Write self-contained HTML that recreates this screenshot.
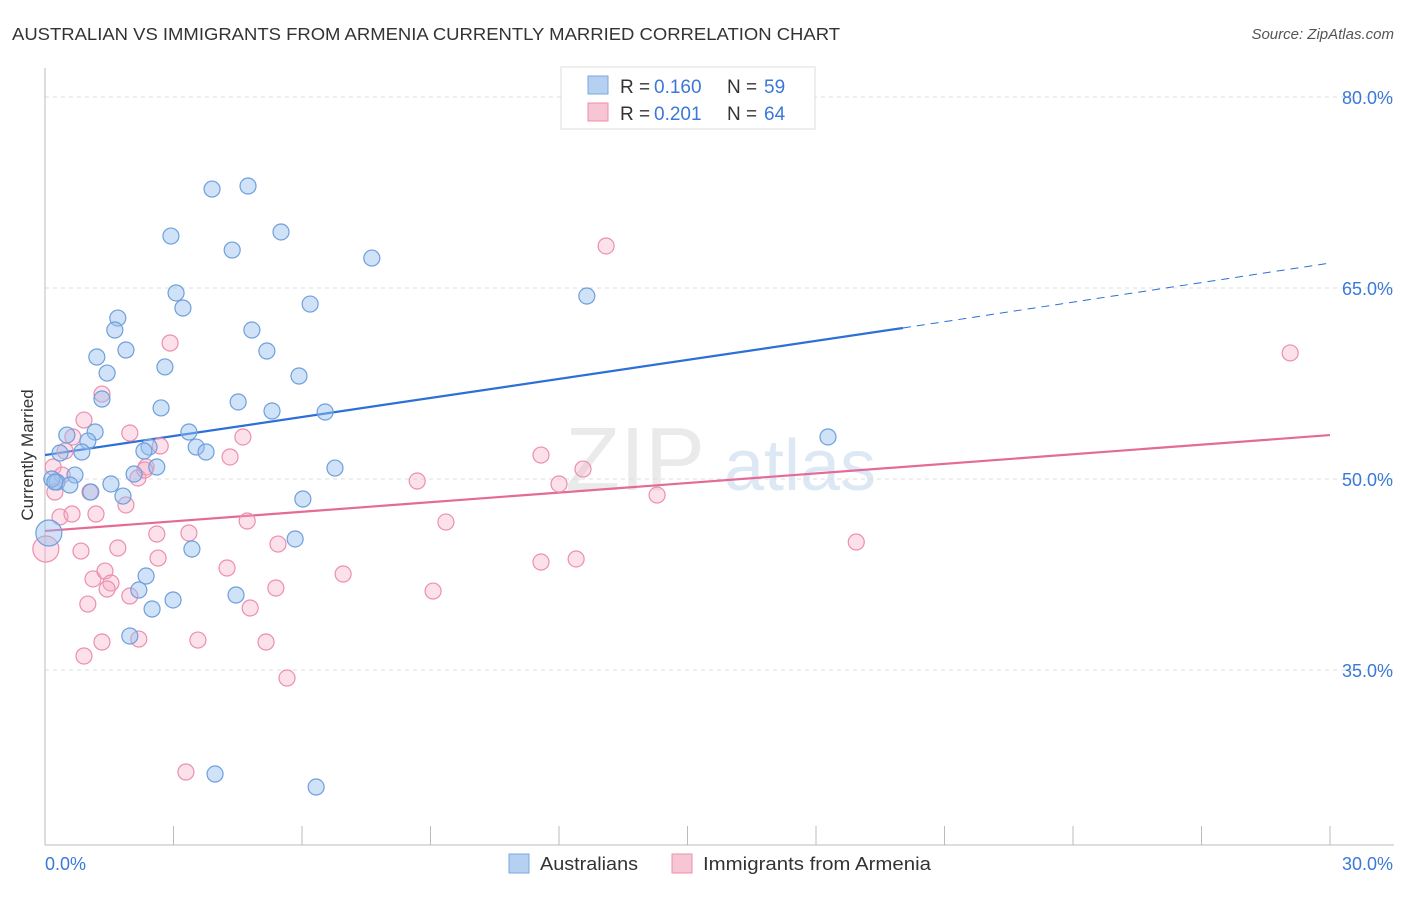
<!DOCTYPE html>
<html><head><meta charset="utf-8"><style>
body{margin:0;background:#fff;font-family:"Liberation Sans",sans-serif}
svg text{font-family:"Liberation Sans",sans-serif}
</style></head><body>
<svg id="chart" width="1406" height="892">
<text x="12" y="40" font-size="17.5" fill="#333" textLength="828" lengthAdjust="spacingAndGlyphs">AUSTRALIAN VS IMMIGRANTS FROM ARMENIA CURRENTLY MARRIED CORRELATION CHART</text>
<text x="1394" y="39" font-size="15" fill="#555" font-style="italic" text-anchor="end">Source: ZipAtlas.com</text>
<g>
<text x="635" y="490" font-size="90" fill="#ddd" font-family="Liberation Serif" text-anchor="middle" opacity="0.6">ZIP</text>
<text x="800" y="490" font-size="72" fill="#c7d9f0" text-anchor="middle" opacity="0.6">atlas</text>
</g>
<g id="grid"></g><g id="axes"></g><g id="trends"></g><g id="points"></g>
<text transform="translate(33,455) rotate(-90)" font-size="17" fill="#333" text-anchor="middle">Currently Married</text>
<g>
<rect x="561" y="67" width="254" height="62" fill="#fff" stroke="#ddd"/>
<rect x="588" y="76" width="20" height="18" fill="#b6d0f2" stroke="#7aa8e0"/>
<rect x="588" y="103" width="20" height="18" fill="#f7c6d5" stroke="#eb8fae"/>
<text x="620" y="93" font-size="19" fill="#333">R = </text><text x="654" y="93" font-size="19" fill="#3b78d8">0.160</text>
<text x="727" y="93" font-size="19" fill="#333">N = </text><text x="764" y="93" font-size="19" fill="#3b78d8">59</text>
<text x="620" y="120" font-size="19" fill="#333">R = </text><text x="654" y="120" font-size="19" fill="#3b78d8">0.201</text>
<text x="727" y="120" font-size="19" fill="#333">N = </text><text x="764" y="120" font-size="19" fill="#3b78d8">64</text>
</g>
<g>
<rect x="509" y="854" width="20" height="19" fill="#b6d0f2" stroke="#7aa8e0"/>
<text x="540" y="870" font-size="18" fill="#333" textLength="98" lengthAdjust="spacingAndGlyphs">Australians</text>
<rect x="672" y="854" width="20" height="19" fill="#f7c6d5" stroke="#eb8fae"/>
<text x="703" y="870" font-size="18" fill="#333" textLength="228" lengthAdjust="spacingAndGlyphs">Immigrants from Armenia</text>
</g>
</svg>
<script>
const yTicks=[80,65,50,35];
const yTickLabels=["80.0%","65.0%","50.0%","35.0%"];
const xTickVals=[0,3,6,9,12,15,18,21,24,27,30];
const blueX=[3.90,4.74,2.94,5.51,4.37,7.63,3.06,3.22,6.19,12.65,1.70,1.63,4.83,1.89,1.21,5.18,2.80,1.45,5.93,1.33,4.51,2.71,5.30,6.54,1.17,0.51,1.00,3.36,2.43,3.53,2.31,3.76,0.86,0.35,18.28,2.61,2.08,0.70,6.77,0.28,0.58,1.54,1.07,1.82,6.02,0.09,5.84,3.43,2.36,2.19,4.46,2.99,2.50,1.98,3.97,6.33,0.16,0.23];
const blueY=[72.77,73.01,69.08,69.40,67.98,67.35,64.61,63.43,63.74,64.37,62.64,61.70,61.70,60.13,59.58,60.05,58.80,58.32,58.09,56.28,56.05,55.58,55.34,55.26,53.69,53.45,52.98,53.69,52.51,52.51,52.20,52.12,52.12,52.04,53.30,50.94,50.39,50.31,50.86,49.76,49.53,49.61,48.98,48.66,48.43,45.76,45.29,44.50,42.38,41.28,40.89,40.50,39.79,37.67,26.83,25.81,50.0,49.76];
const pinkX=[13.10,29.07,2.92,1.33,0.91,1.98,4.62,2.69,0.65,0.47,4.32,11.58,2.36,12.56,2.17,8.69,12.00,14.29,1.05,0.23,1.89,0.35,0.63,1.19,4.72,9.36,2.61,3.36,5.44,18.94,1.70,0.84,0.02,2.64,11.58,12.40,4.25,6.96,1.12,1.40,1.54,5.39,1.45,9.06,1.98,1.00,4.79,1.33,2.19,3.57,5.16,0.91,5.65,3.29,0.19,0.40,2.33];
const pinkY=[68.30,59.90,60.68,56.67,54.63,53.61,53.30,52.59,53.30,52.20,51.73,51.88,50.94,50.78,50.08,49.84,49.61,48.74,48.98,48.98,47.96,47.02,47.25,47.25,46.70,46.62,45.68,45.76,44.89,45.05,44.58,44.34,44.50,43.79,43.48,43.72,43.01,42.54,42.15,42.77,41.83,41.44,41.36,41.20,40.81,40.18,39.87,37.20,37.43,37.35,37.20,36.10,34.37,26.99,50.94,50.31,50.71];
const blueTrend=[51.88,61.86,66.96];
const blueTrendX=[0,20.03,30];
const pinkTrend=[45.92,53.45];
const pinkTrendX=[0,30];
const NS="http://www.w3.org/2000/svg";
const xs=v=>45+v/30*1285;
const ys=v=>97+(80-v)*191/15;
function mk(t,a,p){const e=document.createElementNS(NS,t);for(const k in a)e.setAttribute(k,a[k]);p.appendChild(e);return e;}
const grid=document.getElementById('grid'),axes=document.getElementById('axes');
yTicks.forEach((v,i)=>{
 const l=mk('line',{x1:45,x2:1394,y1:ys(v),y2:ys(v),stroke:'#ddd','stroke-dasharray':'4,4'},grid);
 
 
 const t=mk('text',{x:1393,y:ys(v)+7,'font-size':18,fill:'#3b78d8','text-anchor':'end'},axes);
 t.textContent=yTickLabels[i];
 
 
});
const ax=mk('line',{x1:45,x2:45,y1:68,y2:845,stroke:'#bbb'},axes);


const bx=mk('line',{x1:45,x2:1394,y1:845,y2:845,stroke:'#bbb'},axes);


xTickVals.forEach(v=>{
 const t=mk('line',{x1:xs(v),x2:xs(v),y1:826,y2:845,stroke:'#bbb'},axes);
 
 
});
const x0=mk('text',{x:45,y:870,'font-size':18,fill:'#3b78d8'},axes);x0.textContent='0.0%';


const x1=mk('text',{x:1393,y:870,'font-size':18,fill:'#3b78d8','text-anchor':'end'},axes);x1.textContent='30.0%';


const pts=document.getElementById('points');
function dots(X,Y,fill,stroke,name){X.forEach((x,i)=>{
 const r=(x<0.1)?13:8;
 const c=mk('circle',{cx:xs(x),cy:ys(Y[i]),r:r,fill:fill,stroke:stroke,'stroke-width':1.2},pts);
 
 
});}
dots(pinkX,pinkY,'rgba(245,170,195,0.35)','#eb8fae','armenia-point');
dots(blueX,blueY,'rgba(150,190,240,0.45)','#6e9fdc','australian-point');
const tr=document.getElementById('trends');
const b1=mk('line',{x1:xs(blueTrendX[0]),y1:ys(blueTrend[0]),x2:xs(blueTrendX[1]),y2:ys(blueTrend[1]),stroke:'#2c6fd6','stroke-width':2.2},tr);


const b2=mk('line',{x1:xs(blueTrendX[1]),y1:ys(blueTrend[1]),x2:xs(blueTrendX[2]),y2:ys(blueTrend[2]),stroke:'#2c6fd6','stroke-width':1,'stroke-dasharray':'8,6'},tr);


const p1=mk('line',{x1:xs(pinkTrendX[0]),y1:ys(pinkTrend[0]),x2:xs(pinkTrendX[1]),y2:ys(pinkTrend[1]),stroke:'#e36b95','stroke-width':2.2},tr);


</script>
</body></html>
